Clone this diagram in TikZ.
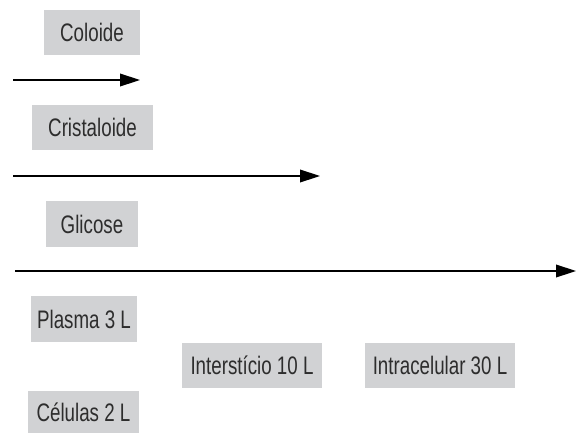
\documentclass[tikz,border=0pt]{standalone}
\usepackage{fontspec}
\setmainfont[FakeStretch=0.74]{Liberation Sans}
\usetikzlibrary{arrows.meta}
\definecolor{boxgray}{RGB}{209,210,212}
\definecolor{txtgray}{RGB}{45,45,45}
\begin{document}
\begin{tikzpicture}[x=0.75pt,y=-0.75pt]
    \tikzstyle{marrs}=[line width=1.1pt,-{Triangle[length=15pt,width=9.5pt]}]
    \tikzstyle{gbox}=[fill=boxgray, text=txtgray, inner sep=0pt, minimum height=34pt, font=\fontsize{19}{20}\selectfont]

    \useasboundingbox (0,0) rectangle (576,433);

    \node[gbox, minimum width=72pt] (coloide) at (92,32.5) {Coloide};
    \node[gbox, minimum width=91pt] (cristaloide) at (92.5,127.5) {Cristaloide};
    \node[gbox, minimum width=69pt] (glicose) at (92,224) {Glicose};
    \node[gbox, minimum width=80pt] (plasma) at (84,319) {Plasma 3 L};
    \node[gbox, minimum width=105pt] (intersticio) at (252,365.5) {Interstício 10 L};
    \node[gbox, minimum width=113pt] (intracelular) at (440,365.5) {Intracelular 30 L};
    \node[gbox, minimum width=83pt, minimum height=32pt] (celulas) at (83.5,412) {Células 2 L};

    \coordinate (c1) at (13,80);
    \coordinate (c1e) at (140,80);
    \coordinate (c2) at (13,176);
    \coordinate (c2e) at (320,176);
    \coordinate (c3) at (15,271);
    \coordinate (c3e) at (576,271);

    \draw[marrs] (c1) -- (c1e);
    \draw[marrs] (c2) -- (c2e);
    \draw[marrs] (c3) -- (c3e);
\end{tikzpicture}
\end{document}
